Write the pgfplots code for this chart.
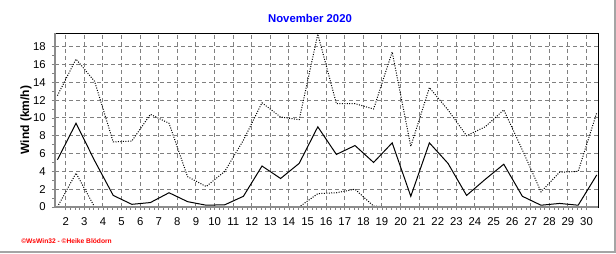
\documentclass[border=0pt]{standalone}
\usepackage{pgfplots}
\pgfplotsset{compat=1.18}
\usepackage{pgfplotstable}
\usepackage{fontspec}
\setmainfont{Liberation Sans}
\definecolor{gridgray}{RGB}{128,128,128}
\definecolor{axgray}{RGB}{140,140,140}
\definecolor{edgegray}{RGB}{165,165,165}
\definecolor{titleblue}{RGB}{0,0,255}
\definecolor{wsred}{RGB}{255,0,0}

\pgfplotstableread{
d avg mx mn
1 5.3 12.5 0
2 9.4 16.6 3.8
3 5.2 14.1 0
4 1.3 7.3 0
5 0.3 7.4 0
6 0.5 10.4 0
7 1.6 9.4 0
8 0.6 3.4 0
9 0.2 2.3 0
10 0.25 4.0 0
11 1.2 7.5 0
12 4.6 11.7 0
13 3.2 10.1 0
14 4.9 9.8 0
15 9.0 19.4 1.5
16 5.9 11.6 1.6
17 6.9 11.6 2.0
18 5.0 11.0 0.1
19 7.2 17.4 0
20 1.2 6.8 0
21 7.2 13.4 0
22 4.9 10.9 0
23 1.3 8.0 0
24 3.1 9.0 0
25 4.8 10.9 0
26 1.2 6.4 0
27 0.2 1.7 0
28 0.4 3.9 0
29 0.2 4.0 0
30 3.6 10.6 0
}\windtable

\begin{document}
\begin{tikzpicture}[x=0.75pt,y=0.75pt]
\path[use as bounding box] (0,0) rectangle (616,253);
\begin{axis}[
  at={(41.25pt,34.5pt)}, anchor=south west,
  scale only axis, width=407.3pt, height=130.3pt,
  xmin=1.42, xmax=30.62, ymin=0, ymax=19.5,
  xtick={2,...,30}, ytick={0,2,...,18},
  minor x tick num=3, minor y tick num=1,
  xmajorgrids, ymajorgrids,
  major grid style={gridgray, line width=0.75pt, dash pattern=on 3pt off 2.25pt},
  tick align=outside, tick pos=left,
  major tick length=2.5pt, minor tick length=2pt,
  tick style={gridgray, line width=0.6pt},
  axis line style={black, line width=0.75pt},
  /pgf/number format/assume math mode=true,
  ticklabel style={font=\fontsize{8.5}{10}\selectfont},
  xticklabel style={yshift=-2pt},
  yticklabel style={xshift=-1pt},
  clip=false,
  after end axis/.code={
    \draw[axgray, line width=1.5pt] (rel axis cs:0,1) -- (rel axis cs:0,0) -- (rel axis cs:1,0);
  },
]
\addplot[black, line width=0.75pt, mark=none] table[x expr=\thisrow{d}+0.55, y=avg] {\windtable};
\addplot[black, line width=0.75pt, mark=none, dash pattern=on 0.75pt off 1.1pt] table[x expr=\thisrow{d}+0.55, y=mx] {\windtable};
\addplot[black, line width=0.75pt, mark=none, dash pattern=on 0.75pt off 1.1pt] table[x expr=\thisrow{d}+0.55, y=mn] {\windtable};
\end{axis}
\node[font=\bfseries\fontsize{8.5}{10}\selectfont, text=titleblue] at (310,235) {November 2020};
\node[rotate=90, font=\bfseries\fontsize{9}{11}\selectfont] at (26,133) {Wind (km/h)};
\node[anchor=west, inner sep=0pt, text=wsred, font=\bfseries\fontsize{5}{6}\selectfont] at (21,12) {©WsWin32 - ©Heike Blödorn};
\draw[edgegray, line width=1.2pt] (0,0.8) -- (615.2,0.8) -- (615.2,253);
\end{tikzpicture}
\end{document}
